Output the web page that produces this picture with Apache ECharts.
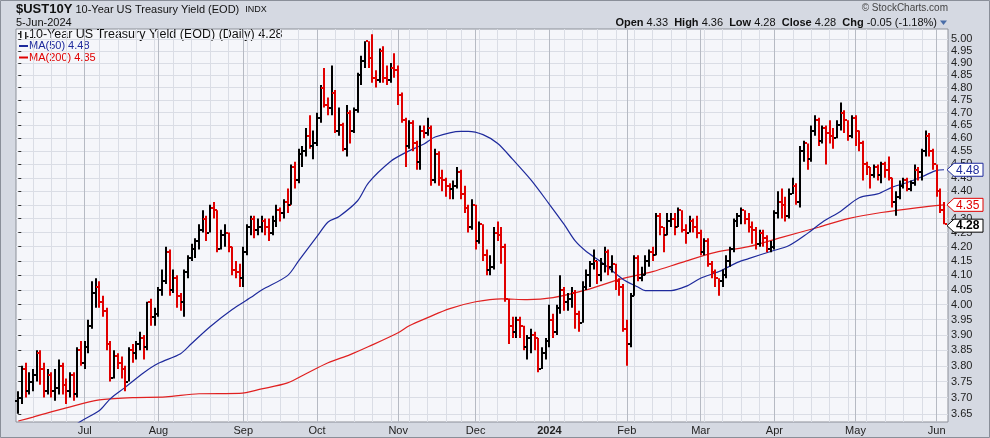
<!DOCTYPE html>
<html><head><meta charset="utf-8">
<script src="https://cdn.jsdelivr.net/npm/echarts/dist/echarts.min.js"></script>
<style>html,body{margin:0;padding:0;background:#d5d9e2;overflow:hidden}#c{width:990px;height:438px}</style>
</head><body><div id="c"></div>
<script>
// ---- data: daily [open, high, low, close] per month ----
const jun23 = [[3.69,3.72,3.65,3.70],[3.70,3.80,3.68,3.79],[3.79,3.81,3.70,3.72],[3.72,3.78,3.71,3.75],[3.75,3.79,3.72,3.77],[3.77,3.85,3.75,3.84],[3.84,3.85,3.74,3.79],[3.79,3.81,3.70,3.72],[3.72,3.79,3.71,3.77],[3.77,3.78,3.70,3.72],[3.72,3.79,3.69,3.73],[3.73,3.82,3.71,3.80],[3.80,3.81,3.71,3.74],[3.74,3.76,3.68,3.72],[3.72,3.78,3.70,3.77],[3.77,3.78,3.69,3.71],[3.71,3.86,3.70,3.85],[3.85,3.88,3.80,3.81]];
const jul23 = [[3.81,3.88,3.79,3.86],[3.86,3.95,3.84,3.93],[3.93,4.08,3.92,4.04],[4.04,4.09,3.99,4.06],[4.06,4.08,3.99,4.01],[4.01,4.03,3.96,3.98],[3.98,3.99,3.85,3.87],[3.87,3.88,3.75,3.76],[3.76,3.85,3.76,3.83],[3.83,3.84,3.79,3.81],[3.81,3.83,3.76,3.79],[3.79,3.80,3.72,3.75],[3.75,3.86,3.75,3.85],[3.85,3.87,3.81,3.84],[3.84,3.88,3.82,3.87],[3.87,3.91,3.85,3.89],[3.89,3.90,3.82,3.86],[3.86,4.01,3.85,4.01],[4.01,4.02,3.93,3.96],[3.96,3.99,3.93,3.97]];
const aug23 = [[3.97,4.06,3.96,4.05],[4.05,4.12,4.03,4.08],[4.08,4.20,4.07,4.18],[4.18,4.19,4.03,4.05],[4.05,4.12,4.04,4.09],[4.09,4.10,3.99,4.03],[4.03,4.04,3.98,4.01],[4.01,4.12,3.96,4.11],[4.11,4.17,4.09,4.16],[4.16,4.21,4.15,4.19],[4.19,4.23,4.16,4.22],[4.22,4.28,4.19,4.26],[4.26,4.33,4.25,4.30],[4.30,4.31,4.22,4.25],[4.25,4.35,4.25,4.34],[4.34,4.36,4.30,4.33],[4.33,4.33,4.18,4.19],[4.19,4.26,4.19,4.24],[4.24,4.28,4.20,4.25],[4.25,4.25,4.18,4.20],[4.20,4.20,4.10,4.12],[4.12,4.15,4.09,4.11],[4.11,4.14,4.06,4.09]];
const sep23 = [[4.09,4.20,4.06,4.18],[4.18,4.28,4.17,4.27],[4.27,4.31,4.24,4.30],[4.30,4.31,4.23,4.26],[4.26,4.30,4.24,4.27],[4.27,4.31,4.25,4.29],[4.29,4.30,4.24,4.27],[4.27,4.30,4.22,4.25],[4.25,4.31,4.24,4.29],[4.29,4.35,4.27,4.33],[4.33,4.34,4.29,4.32],[4.32,4.37,4.30,4.36],[4.36,4.41,4.32,4.35],[4.35,4.50,4.35,4.49],[4.49,4.51,4.41,4.44],[4.44,4.56,4.43,4.54],[4.54,4.57,4.49,4.55],[4.55,4.64,4.53,4.61],[4.61,4.69,4.56,4.57],[4.57,4.63,4.52,4.58]];
const oct23 = [[4.58,4.70,4.57,4.68],[4.68,4.81,4.66,4.80],[4.80,4.88,4.72,4.73],[4.73,4.76,4.69,4.72],[4.72,4.89,4.69,4.78],[4.78,4.79,4.62,4.63],[4.63,4.72,4.61,4.65],[4.65,4.66,4.55,4.56],[4.56,4.73,4.53,4.70],[4.70,4.71,4.58,4.63],[4.63,4.72,4.62,4.71],[4.71,4.86,4.70,4.85],[4.85,4.93,4.81,4.91],[4.91,4.99,4.88,4.99],[4.99,4.99,4.88,4.92],[4.92,5.02,4.82,4.84],[4.84,4.87,4.80,4.83],[4.83,4.96,4.82,4.95],[4.95,4.97,4.82,4.84],[4.84,4.89,4.81,4.83],[4.83,4.90,4.82,4.88],[4.88,4.94,4.84,4.87]];
const nov23 = [[4.87,4.89,4.73,4.77],[4.77,4.78,4.66,4.67],[4.67,4.68,4.49,4.57],[4.57,4.67,4.56,4.66],[4.66,4.67,4.55,4.58],[4.58,4.59,4.48,4.51],[4.51,4.65,4.48,4.63],[4.63,4.65,4.60,4.62],[4.62,4.68,4.61,4.64],[4.64,4.65,4.42,4.44],[4.44,4.56,4.43,4.54],[4.54,4.55,4.42,4.45],[4.45,4.48,4.40,4.44],[4.44,4.45,4.38,4.42],[4.42,4.43,4.37,4.41],[4.41,4.44,4.37,4.42],[4.42,4.49,4.41,4.47],[4.47,4.48,4.37,4.39],[4.39,4.42,4.32,4.34],[4.34,4.35,4.25,4.27],[4.27,4.37,4.26,4.35]];
const dec23 = [[4.35,4.35,4.19,4.22],[4.22,4.29,4.21,4.28],[4.28,4.28,4.15,4.17],[4.17,4.19,4.10,4.12],[4.12,4.17,4.10,4.13],[4.13,4.27,4.12,4.25],[4.25,4.29,4.22,4.24],[4.24,4.27,4.14,4.20],[4.20,4.21,4.01,4.02],[4.02,4.02,3.87,3.93],[3.93,3.96,3.89,3.91],[3.91,3.96,3.89,3.95],[3.95,3.96,3.89,3.93],[3.93,3.93,3.85,3.86],[3.86,3.90,3.82,3.89],[3.89,3.92,3.84,3.90],[3.90,3.91,3.85,3.89],[3.89,3.89,3.78,3.79],[3.79,3.86,3.79,3.84],[3.84,3.89,3.82,3.88]];
const jan24 = [[3.88,4.00,3.86,3.95],[3.95,3.97,3.89,3.91],[3.91,4.00,3.90,3.99],[3.99,4.10,3.97,4.05],[4.05,4.06,3.98,4.01],[4.01,4.04,3.98,4.02],[4.02,4.06,3.99,4.04],[4.04,4.05,3.92,3.97],[3.97,3.98,3.91,3.94],[3.94,4.08,3.94,4.06],[4.06,4.12,4.05,4.10],[4.10,4.15,4.06,4.14],[4.14,4.19,4.12,4.15],[4.15,4.15,4.07,4.10],[4.10,4.16,4.08,4.14],[4.14,4.20,4.11,4.18],[4.18,4.19,4.10,4.13],[4.13,4.17,4.11,4.14],[4.14,4.14,4.05,4.08],[4.08,4.09,4.03,4.06],[4.06,4.07,3.91,3.92]];
const feb24 = [[3.92,3.95,3.80,3.87],[3.87,4.04,3.86,4.03],[4.03,4.17,4.03,4.16],[4.16,4.17,4.08,4.09],[4.09,4.13,4.08,4.10],[4.10,4.17,4.10,4.15],[4.15,4.19,4.13,4.18],[4.18,4.20,4.15,4.17],[4.17,4.32,4.17,4.31],[4.31,4.32,4.24,4.27],[4.27,4.27,4.18,4.24],[4.24,4.32,4.24,4.29],[4.29,4.32,4.27,4.30],[4.30,4.32,4.24,4.27],[4.27,4.34,4.27,4.33],[4.33,4.33,4.25,4.26],[4.26,4.28,4.21,4.25],[4.25,4.31,4.25,4.29],[4.29,4.30,4.25,4.27],[4.27,4.31,4.23,4.25]];
const mar24 = [[4.25,4.26,4.17,4.18],[4.18,4.23,4.17,4.22],[4.22,4.23,4.13,4.14],[4.14,4.15,4.09,4.11],[4.11,4.12,4.06,4.09],[4.09,4.09,4.03,4.08],[4.08,4.12,4.06,4.10],[4.10,4.17,4.09,4.15],[4.15,4.20,4.13,4.19],[4.19,4.30,4.18,4.29],[4.29,4.32,4.27,4.31],[4.31,4.34,4.28,4.33],[4.33,4.33,4.28,4.30],[4.30,4.32,4.25,4.27],[4.27,4.29,4.21,4.26],[4.26,4.27,4.19,4.21],[4.21,4.26,4.20,4.25],[4.25,4.26,4.20,4.23],[4.23,4.24,4.18,4.19],[4.19,4.22,4.18,4.20]];
const apr24 = [[4.20,4.33,4.19,4.32],[4.32,4.40,4.30,4.36],[4.36,4.41,4.30,4.35],[4.35,4.38,4.29,4.31],[4.31,4.41,4.30,4.39],[4.39,4.45,4.39,4.42],[4.42,4.43,4.35,4.36],[4.36,4.57,4.34,4.55],[4.55,4.59,4.51,4.58],[4.58,4.58,4.48,4.52],[4.52,4.65,4.51,4.63],[4.63,4.69,4.61,4.67],[4.67,4.68,4.57,4.59],[4.59,4.65,4.58,4.64],[4.64,4.65,4.50,4.62],[4.62,4.67,4.58,4.61],[4.61,4.64,4.56,4.60],[4.60,4.67,4.60,4.65],[4.65,4.74,4.63,4.70],[4.70,4.71,4.62,4.67],[4.67,4.67,4.59,4.61],[4.61,4.69,4.60,4.68]];
const may24 = [[4.68,4.69,4.57,4.63],[4.63,4.63,4.55,4.58],[4.58,4.59,4.44,4.50],[4.50,4.51,4.46,4.49],[4.49,4.49,4.41,4.46],[4.46,4.50,4.45,4.49],[4.49,4.50,4.44,4.46],[4.46,4.51,4.43,4.50],[4.50,4.51,4.45,4.48],[4.48,4.53,4.44,4.45],[4.45,4.45,4.34,4.36],[4.36,4.40,4.31,4.38],[4.38,4.44,4.37,4.42],[4.42,4.45,4.41,4.44],[4.44,4.45,4.40,4.41],[4.41,4.44,4.40,4.43],[4.43,4.50,4.42,4.48],[4.48,4.49,4.44,4.47],[4.47,4.56,4.44,4.55],[4.55,4.63,4.53,4.61],[4.61,4.62,4.53,4.55],[4.55,4.56,4.48,4.50]];
const jun24 = [[4.50,4.50,4.38,4.40],[4.40,4.41,4.32,4.33],[4.33,4.36,4.28,4.28]];

// moving averages: [bar index, value]
const ma50Pts = [[15,3.60],[16,3.62],[22,3.66],[25,3.697],[29,3.732],[34,3.778],[38,3.808],[44,3.839],[47,3.872],[52,3.927],[58,3.984],[63,4.024],[66,4.05],[73,4.099],[76,4.15],[81,4.236],[84,4.288],[87,4.308],[92,4.365],[95,4.432],[101,4.512],[105,4.545],[110,4.578],[113,4.605],[120,4.627],[122,4.627],[126,4.614],[130,4.58],[134,4.52],[139,4.442],[144,4.352],[148,4.279],[151,4.22],[154,4.183],[158,4.147],[164,4.086],[168,4.06],[170,4.048],[177,4.048],[181,4.062],[185,4.09],[190,4.113],[195,4.145],[198,4.158],[204,4.183],[209,4.204],[214,4.247],[218,4.287],[223,4.327],[228,4.376],[233,4.39],[237,4.415],[242,4.437],[246,4.46],[249,4.478],[251,4.48]];
const ma200Pts = [[0,3.628],[4,3.64],[13,3.668],[22,3.693],[31,3.70],[40,3.702],[49,3.712],[60,3.713],[66,3.727],[73,3.746],[78,3.775],[84,3.81],[90,3.836],[95,3.862],[103,3.907],[106,3.93],[111,3.957],[117,3.987],[124,4.01],[131,4.02],[138,4.017],[145,4.024],[154,4.05],[163,4.086],[172,4.113],[180,4.145],[189,4.18],[198,4.20],[207,4.233],[217,4.269],[225,4.30],[234,4.322],[244,4.34],[251,4.35]];

const yTickLabels = ['3.65','3.70','3.75','3.80','3.85','3.90','3.95','4.00','4.05','4.10','4.15','4.20','4.25','4.30','4.35','4.40','4.45','4.50','4.55','4.60','4.65','4.70','4.75','4.80','4.85','4.90','4.95','5.00'];
const monthLabels = ['Jul','Aug','Sep','Oct','Nov','Dec','2024','Feb','Mar','Apr','May','Jun'];
const holidays = ['2023-06-19','2023-07-04','2023-09-04','2023-11-23','2023-12-25','2024-01-01','2024-01-15','2024-02-19','2024-03-29','2024-05-27'];

// ---- trading calendar ----
const dates = [];
for (let t = Date.UTC(2023,5,6); t <= Date.UTC(2024,5,5); t += 86400000) {
  const d = new Date(t); const wd = d.getUTCDay();
  const s = d.toISOString().slice(0,10);
  if (wd === 0 || wd === 6 || holidays.includes(s)) continue;
  dates.push(d);
}
const ohlc = [].concat(jun23,jul23,aug23,sep23,oct23,nov23,dec23,jan24,feb24,mar24,apr24,may24,jun24);
const monthStarts = [], weekStarts = [];
for (let i = 1; i < dates.length; i++) {
  if (dates[i].getUTCMonth() !== dates[i-1].getUTCMonth()) monthStarts.push(i);
  if (dates[i].getUTCDay() < dates[i-1].getUTCDay()) weekStarts.push(i);
}
const monthLabelMap = {};
monthStarts.forEach((idx, k) => { monthLabelMap[idx] = monthLabels[k]; });

const L = Math.log;
const barData = ohlc.map((r, i) => {
  const prev = i > 0 ? ohlc[i-1][3] : r[0];
  return [i, L(r[0]), L(r[1]), L(r[2]), L(r[3]), r[3] >= prev ? 1 : 0];
});
const lastClose = ohlc[ohlc.length-1][3];
const ma50Last = ma50Pts[ma50Pts.length-1][1];
const ma200Last = ma200Pts[ma200Pts.length-1][1];

const FONT = '"Liberation Sans", Arial, sans-serif';
const RED = '#e00000', NAVY = '#1e2a9c';
const xMin = -0.62, xMax = 252.08;
const yMin = L(3.625), yMax = L(5.042);

const chart = echarts.init(document.getElementById('c'), null, {renderer: 'canvas'});
chart.setOption({
  animation: false,
  backgroundColor: '#d5d9e2',
  grid: {left: 16, top: 29, width: 932, height: 393, show: true, backgroundColor: '#f5f6fa', borderColor: '#8c9099', borderWidth: 1},
  xAxis: [
    {type: 'value', min: xMin, max: xMax, position: 'bottom',
     axisLine: {show: false}, axisLabel: {show: false},
     axisTick: {show: false, customValues: weekStarts},
     splitLine: {show: true, lineStyle: {color: '#dadde5', width: 1}}},
    {type: 'value', min: xMin, max: xMax, position: 'bottom',
     axisLine: {show: false},
     axisTick: {show: false, customValues: monthStarts},
     splitLine: {show: true, lineStyle: {color: '#b6bac3', width: 1}},
     axisLabel: {show: true, customValues: monthStarts, margin: 3, fontFamily: FONT, fontSize: 11, color: '#222',
       formatter: v => { const s = monthLabelMap[Math.round(v)] || ''; return /^\d{4}$/.test(s) ? '{b|' + s + '}' : s; },
       rich: {b: {fontWeight: 'bold', fontFamily: FONT, fontSize: 11, color: '#222'}}}}
  ],
  yAxis: {type: 'value', position: 'right', min: yMin, max: yMax,
    axisLine: {show: false},
    axisTick: {show: true, customValues: yTickLabels.map(s => L(parseFloat(s))), length: 3, lineStyle: {color: '#333'}},
    splitLine: {show: true, lineStyle: {color: '#dadde5', width: 1}},
    axisLabel: {customValues: yTickLabels.map(s => L(parseFloat(s))), margin: 3, fontFamily: FONT, fontSize: 11, color: '#222',
      formatter: v => Math.exp(v).toFixed(2)}},
  graphic: [
    {type: 'rect', shape: {x: 0.5, y: 0.5, width: 989, height: 437}, style: {fill: 'none', stroke: '#8a8f99', lineWidth: 1}, silent: true},
    {type: 'text', x: 16, y: 9.5, style: {
      text: '{a|$UST10Y} {b|10-Year US Treasury Yield (EOD)}  {c|INDX}',
      font: '11px ' + FONT, fill: '#111', verticalAlign: 'middle',
      rich: {a: {font: 'bold 13px ' + FONT, fill: '#111'}, b: {font: '11px ' + FONT, fill: '#111'}, c: {font: '9px ' + FONT, fill: '#111'}}}},
    {type: 'text', x: 16, y: 23, style: {text: '5-Jun-2024', font: '11px ' + FONT, fill: '#111', verticalAlign: 'middle'}},
    {type: 'text', x: 948, y: 8.5, style: {text: '\u00A9 StockCharts.com', font: '10px ' + FONT, fill: '#444', align: 'right', verticalAlign: 'middle'}},
    {type: 'text', x: 937, y: 22.5, style: {
      text: '{b|Open} 4.33  {b|High} 4.36  {b|Low} 4.28  {b|Close} 4.28  {b|Chg} -0.05 (-1.18%)',
      font: '11px ' + FONT, fill: '#111', align: 'right', verticalAlign: 'middle',
      rich: {b: {font: 'bold 11px ' + FONT, fill: '#111'}}}},
    {type: 'polygon', shape: {points: [[940,20.5],[947,20.5],[943.5,25]]}, style: {fill: '#4a6ea8'}},
    // legend
    {type: 'rect', shape: {x: 20, y: 31, width: 1.5, height: 7}, style: {fill: '#222'}},
    {type: 'rect', shape: {x: 18, y: 33, width: 2, height: 1.2}, style: {fill: '#222'}},
    {type: 'rect', shape: {x: 25, y: 32, width: 1.5, height: 7}, style: {fill: '#222'}},
    {type: 'rect', shape: {x: 26.5, y: 36, width: 2, height: 1.2}, style: {fill: '#222'}},
    {type: 'text', x: 29, y: 35, style: {text: '10-Year US Treasury Yield (EOD) (Daily) 4.28', font: '12.5px ' + FONT, fill: '#111', verticalAlign: 'middle'}},
    {type: 'rect', shape: {x: 19, y: 45, width: 9, height: 2}, style: {fill: NAVY}},
    {type: 'text', x: 29, y: 46, style: {text: 'MA(50) 4.48', font: '11px ' + FONT, fill: NAVY, verticalAlign: 'middle'}},
    {type: 'rect', shape: {x: 19, y: 56.5, width: 9, height: 2}, style: {fill: RED}},
    {type: 'text', x: 29, y: 57.5, style: {text: 'MA(200) 4.35', font: '11px ' + FONT, fill: RED, verticalAlign: 'middle'}}
  ],
  series: [
    {type: 'line', xAxisIndex: 0, data: ma200Pts.map(p => [p[0], L(p[1])]), showSymbol: false, symbol: 'none', smooth: 0.3,
     lineStyle: {color: '#e02020', width: 1.2}, z: 3},
    {type: 'line', xAxisIndex: 0, data: ma50Pts.map(p => [p[0], L(p[1])]), showSymbol: false, symbol: 'none', smooth: 0.3,
     lineStyle: {color: NAVY, width: 1.2}, z: 3},
    {type: 'custom', xAxisIndex: 0, data: barData, encode: {x: 0, y: [1,2,3,4]}, z: 4,
     renderItem: (params, api) => {
       const i = api.value(0);
       const h = api.coord([i, api.value(2)]);
       const l = api.coord([i, api.value(3)]);
       const o = api.coord([i, api.value(1)]);
       const c = api.coord([i, api.value(4)]);
       const col = api.value(5) ? '#000' : RED;
       const x = Math.round(h[0]);
       return {type: 'group', children: [
         {type: 'rect', shape: {x: x - 1, y: h[1], width: 2, height: Math.max(1.5, l[1] - h[1])}, style: {fill: col}},
         {type: 'rect', shape: {x: x - 3, y: Math.round(o[1]) - 1, width: 2, height: 2}, style: {fill: col}},
         {type: 'rect', shape: {x: x + 1, y: Math.round(c[1]) - 1, width: 2, height: 2}, style: {fill: col}}
       ]};
     }},
    {type: 'custom', xAxisIndex: 0, clip: false, z: 10,
     data: [[0, L(ma50Last), 0], [0, L(ma200Last), 1], [0, L(lastClose), 2]],
     renderItem: (params, api) => {
       const k = api.value(2);
       const vals = [ma50Last, ma200Last, lastClose];
       const cols = [NAVY, RED, '#000'];
       let y = api.coord([0, api.value(1)])[1];
       if (k === 2) y += 1.5;
       const x0 = params.coordSys.x + params.coordSys.width - 1;
       return {type: 'group', children: [
         {type: 'polygon', shape: {points: [[x0, y], [x0 + 7, y - 6.5], [x0 + 36, y - 6.5], [x0 + 36, y + 6.5], [x0 + 7, y + 6.5]]},
          style: {fill: '#fff', stroke: cols[k], lineWidth: 1}},
         {type: 'text', style: {text: vals[k].toFixed(2), x: x0 + 9, y: y + 0.5, verticalAlign: 'middle',
          font: (k === 2 ? 'bold 12px ' : '12px ') + FONT, fill: cols[k]}}
       ]};
     }}
  ]
});
</script></body></html>
